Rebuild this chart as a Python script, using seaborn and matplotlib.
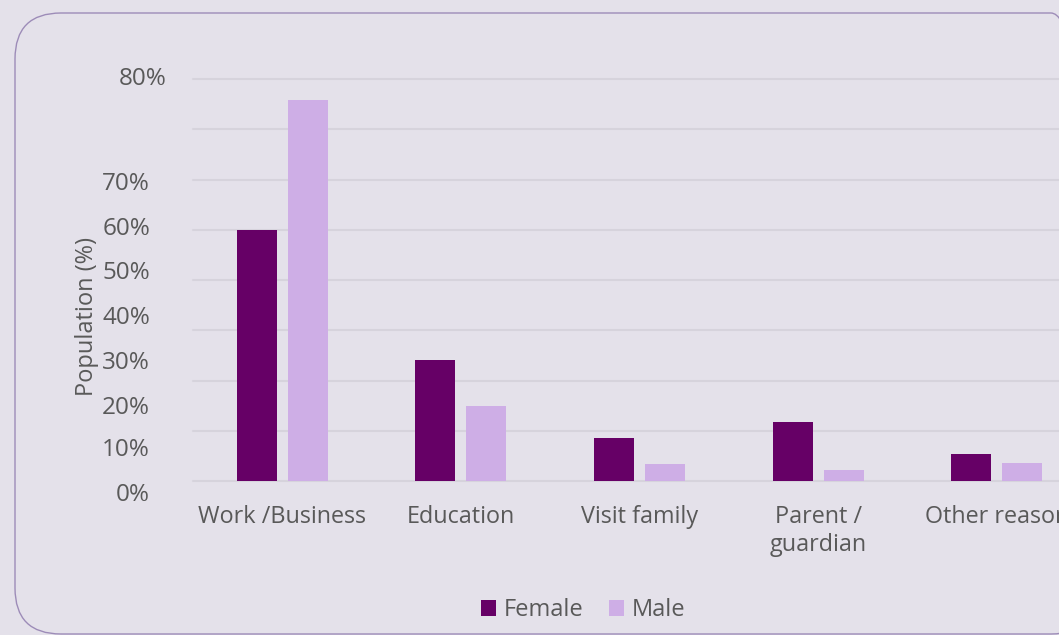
import matplotlib
matplotlib.use("Agg")
import matplotlib.pyplot as plt
import matplotlib.transforms as mtransforms
from matplotlib.patches import FancyBboxPatch
import seaborn as sns
import pandas as pd

# data (read against the gridlines)
reasons = ["Work /Business", "Education", "Visit family", "Parent /\nguardian", "Other reason"]
female = [50.0, 24.1, 8.6, 11.7, 5.4]
male = [75.8, 14.9, 3.4, 2.1, 3.6]

# y labels as printed in the source (they sit off the gridlines)
ytick_labels = ["0%", "10%", "20%", "30%", "40%", "50%", "60%", "70%", "80%"]
ytick_pos = [-2.8, 6.2, 14.5, 23.5, 32.4, 41.4, 50.1, 59.1, 80.0]
grid_vals = [0, 10, 20, 30, 40, 50, 60, 70, 80]

df = pd.DataFrame({
    "reason": reasons * 2,
    "sex": ["Female"] * len(reasons) + ["Male"] * len(reasons),
    "value": female + male,
})

sns.set_theme(style="white")
plt.rcParams["font.family"] = ["Open Sans", "DejaVu Sans"]

bg = "#E4E1EA"
txt = "#595959"
W, H = 1059, 635
fig = plt.figure(figsize=(W / 100, H / 100), dpi=100, facecolor=bg)

# rounded frame around the chart (runs off the right edge like the source)
frame = FancyBboxPatch((15, 1), 1082, 621, boxstyle="round,pad=0,rounding_size=46",
                       transform=mtransforms.IdentityTransform(),
                       facecolor="none", edgecolor="#9D8CB8", linewidth=1.0, zorder=-1)
fig.patches.append(frame)

ax = fig.add_axes([193 / W, 154 / H, 893 / W, 402 / H])
ax.set_facecolor("none")

sns.barplot(data=df, x="reason", y="value", hue="sex",
            palette={"Female": "#660066", "Male": "#CEAEE6"},
            width=0.57, gap=0.215, saturation=1, linewidth=0, ax=ax, zorder=3)

for g in grid_vals:
    ax.axhline(g, color="#D6D3DC", linewidth=1.5, zorder=1, clip_on=False)

ax.set_ylim(0, 80)
ax.set_xlim(-0.5, len(reasons) - 0.5)
for s in ax.spines.values():
    s.set_visible(False)
ax.set_yticks([])
ax.set_xlabel("")
ax.set_ylabel("")
ax.tick_params(axis="x", length=0, pad=17, labelsize=16.8, labelcolor=txt)
for t in ax.get_xticklabels():
    t.set_linespacing(1.25)

trans = mtransforms.blended_transform_factory(ax.transAxes, ax.transData)
for lab, pos in zip(ytick_labels, ytick_pos):
    dx = -26 if lab == "80%" else -43
    off = mtransforms.offset_copy(trans, fig=fig, x=dx, y=0, units="dots")
    ax.text(0, pos, lab, transform=off, ha="right", va="center",
            fontsize=17.5, color=txt, clip_on=False)

fig.text(87 / W, 1 - 316 / H, "Population (%)", rotation=90, ha="center", va="center",
         fontsize=17, color=txt)

handles, labels = ax.get_legend_handles_labels()
for h in handles:
    h.set_edgecolor("none")
ax.legend_.remove()
fig.legend(handles, labels, loc="center", bbox_to_anchor=(583 / W, 1 - 610 / H),
           ncol=2, frameon=False, fontsize=17, labelcolor=txt,
           handlelength=0.65, handleheight=0.65, handletextpad=0.3, columnspacing=1.1)

fig.savefig("out.png", dpi=100, facecolor=bg)
